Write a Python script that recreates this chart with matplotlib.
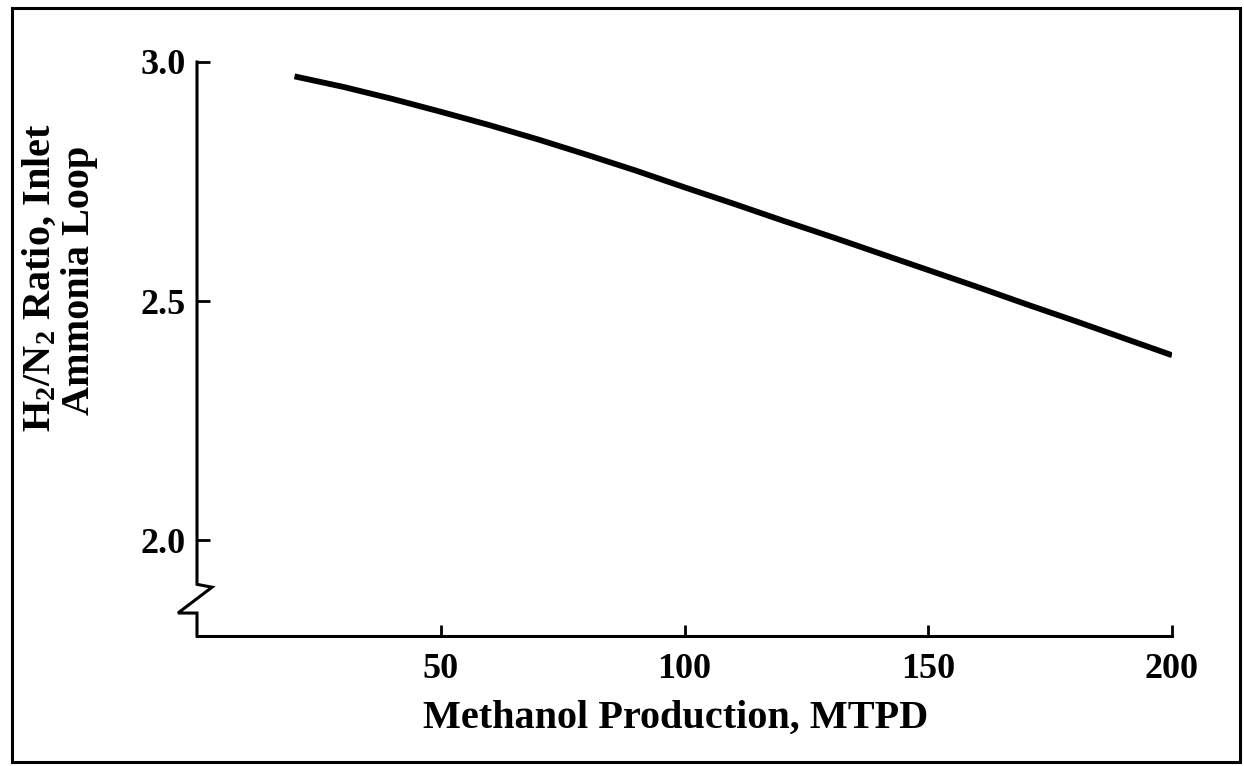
import matplotlib

matplotlib.use("Agg")

import matplotlib.pyplot as plt
from matplotlib.patches import Rectangle
from matplotlib.transforms import blended_transform_factory

# methanol production (MTPD) vs. H2/N2 ratio at the ammonia loop inlet
production = [20, 30, 40, 50, 60, 70, 80, 90, 100, 110, 120, 130, 140, 150,
              160, 170, 180, 190, 200]
h2_n2_ratio = [2.970, 2.948, 2.923, 2.896, 2.868, 2.838, 2.806, 2.773, 2.738,
               2.704, 2.669, 2.635, 2.600, 2.565, 2.530, 2.494, 2.459, 2.423,
               2.387]

x_ticks = [50, 100, 150, 200]
y_ticks = [2.0, 2.5, 3.0]
x_lim = (0, 200)
y_lim = (1.8, 3.0)

x_title = "Methanol Production, MTPD"
y_title = ["H$_2$/N$_2$ Ratio, Inlet", "Ammonia Loop"]

plt.rcParams["font.family"] = ["Liberation Serif", "DejaVu Serif"]
plt.rcParams["font.weight"] = "bold"
plt.rcParams["mathtext.fontset"] = "custom"
plt.rcParams["mathtext.rm"] = "Liberation Serif:bold"
plt.rcParams["mathtext.it"] = "Liberation Serif:bold"
plt.rcParams["mathtext.bf"] = "Liberation Serif:bold"

W, H = 1244, 766
fig = plt.figure(figsize=(W / 100, H / 100), dpi=100)
ax = fig.add_axes([197 / W, 1 - 636 / H, (1172 - 197) / W, (636 - 62) / H])

ax.plot(production, h2_n2_ratio, color="black", lw=4.2, solid_capstyle="butt")

ax.set_xlim(*x_lim)
ax.set_ylim(*y_lim)
ax.set_xticks(x_ticks)
ax.set_yticks(y_ticks)
ax.set_xticklabels([str(v) for v in x_ticks])
ax.set_yticklabels([f"{v:.1f}" for v in y_ticks])

for side in ("top", "right", "left"):
    ax.spines[side].set_visible(False)
ax.spines["bottom"].set_linewidth(2.2)

ax.tick_params(axis="both", direction="in", width=2.0, labelsize=26,
               colors="black")
ax.tick_params(axis="x", length=8, pad=12)
ax.tick_params(axis="y", length=9, pad=8)

# left axis drawn by hand so it can carry the break mark near the bottom
trans = blended_transform_factory(ax.transAxes, ax.transData)
ax.plot([0, 0, 0.0154, -0.0195, 0, 0],
        [3.0, 1.908, 1.902, 1.848, 1.848, 1.8],
        color="black", lw=2.2, transform=trans, clip_on=False,
        solid_joinstyle="miter")

# axis titles
fig.text(676 / W, 1 - 718 / H, x_title, fontsize=29, fontweight="bold",
         ha="center", va="center")
fig.text(40 / W, 1 - 278 / H, y_title[0], fontsize=29, fontweight="bold",
         rotation=90, ha="center", va="center")
fig.text(80 / W, 1 - 280 / H, y_title[1], fontsize=29, fontweight="bold",
         rotation=90, ha="center", va="center")

# border around the whole figure
fig.patches.append(Rectangle((12 / W, 1 - 762 / H), (1240 - 12) / W,
                             (762 - 8) / H, transform=fig.transFigure,
                             fill=False, lw=2.2, ec="black"))

fig.savefig("out.png", dpi=100)
